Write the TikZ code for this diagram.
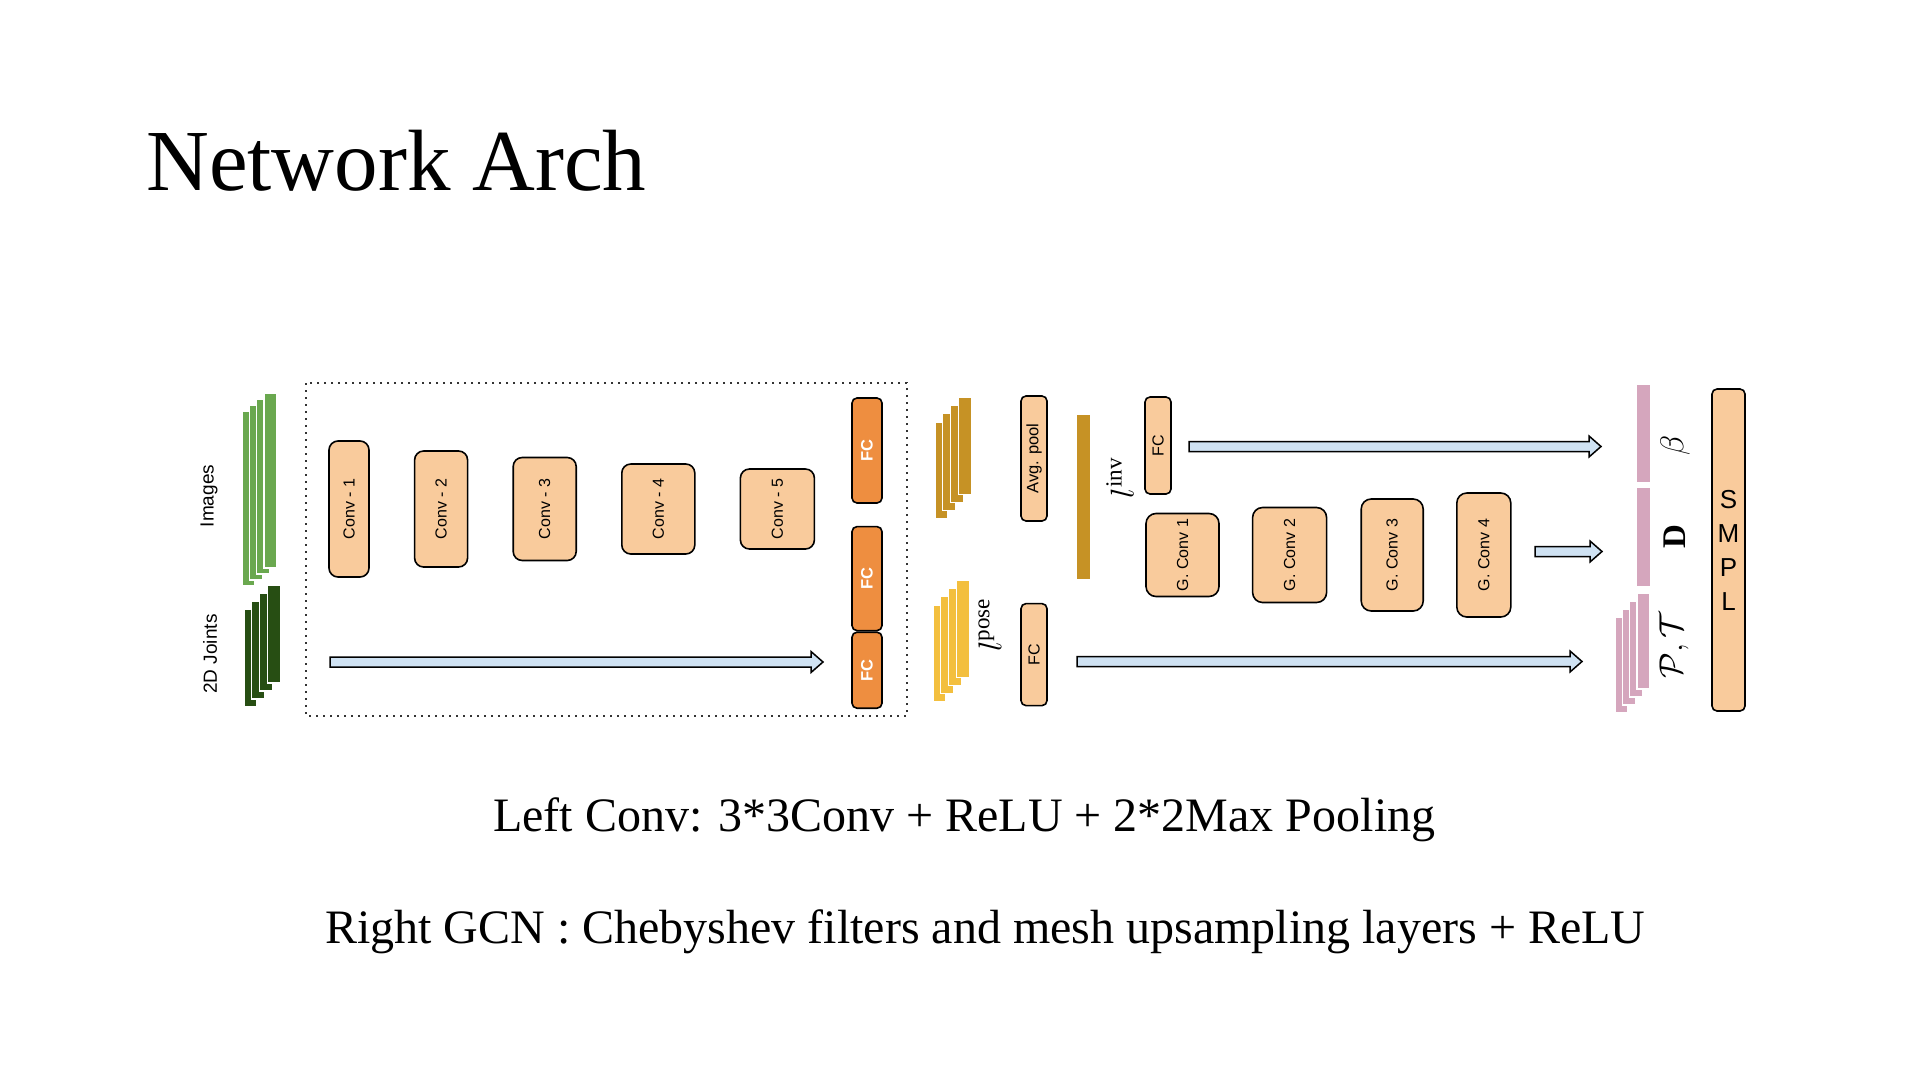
\RequirePackage{fix-cm}
\documentclass[tikz,border=0pt]{standalone}
\usepackage{fontspec}
\setmainfont{Liberation Serif}
\setsansfont{Liberation Sans}
\usepackage{tikz}
\usetikzlibrary{positioning, calc}
\definecolor{peach}{HTML}{F9CB9C}
\definecolor{fcOrange}{HTML}{EE8E40}
\definecolor{imgGreen}{HTML}{6AA84F}
\definecolor{jointGreen}{HTML}{274E13}
\definecolor{featGold}{HTML}{C69225}
\definecolor{poseYellow}{HTML}{F3BF3E}
\definecolor{smplPink}{HTML}{D5A6BD}
\definecolor{arrowBlue}{HTML}{CFE2F3}
\tikzstyle{roundRec} = [rectangle, rounded corners=9pt, draw=black, line width=1.6pt, fill=peach, inner sep=0pt, font=\fontsize{16}{18}\sffamily]
\tikzstyle{thinRec} = [roundRec, rounded corners=5pt]
\tikzstyle{fcRec} = [thinRec, fill=fcOrange, text=white, font=\fontsize{16.5}{18}\sffamily\bfseries]
\tikzstyle{bar} = [draw=white, line width=1.2pt]
\tikzstyle{txt} = [inner sep=0pt]
\tikzstyle{mathLabel} = [inner sep=0pt, rotate=90, font=\fontsize{33}{36}\selectfont]
\tikzstyle{blockArrow} = [draw=black, fill=arrowBlue, line width=1.5pt, line join=miter,
  to path={let \p1=(\tikztostart), \p2=(\tikztotarget) in
    (\x1,\y1+5pt) -- (\x2-12pt,\y1+5pt) -- (\x2-12pt,\y1+10.5pt) -- (\x2,\y1)
    -- (\x2-12pt,\y1-10.5pt) -- (\x2-12pt,\y1-5pt) -- (\x1,\y1-5pt) -- cycle}]

\begin{document}
\begin{tikzpicture}[x=1pt, y=-1pt]
	\fill[white] (0,0) rectangle (1919,1079);
	\useasboundingbox (0,0) rectangle (1919,1079);
	% title and notes
	\node (title) [txt, anchor=base west, font=\fontsize{87}{100}\selectfont] at (146,190) {Network Arch};
	\node (noteConv) [txt, anchor=base west, font=\fontsize{48}{56}\selectfont] at (493,831) {Left Conv: 3*3Conv + ReLU + 2*2Max Pooling};
	\node (noteGcn) [txt, anchor=base west, font=\fontsize{48}{56}\selectfont] at (325,943) {Right GCN : Chebyshev filters and mesh upsampling layers + ReLU};
	% inputs
	\foreach \i in {0,...,3}
		\filldraw[bar, fill=imgGreen] ({242+7.3*\i},{411-6*\i}) rectangle ++(13,175);
	\foreach \i in {0,...,3}
		\filldraw[bar, fill=jointGreen] ({244+7.7*\i},{609-8*\i}) rectangle ++(13,98);
	\node (imgLabel) [txt, rotate=90, font=\fontsize{19}{21}\sffamily] at (209,496) {Images};
	\node (jointLabel) [txt, rotate=90, font=\fontsize{19}{21}\sffamily] at (210,654) {2D Joints};
	\draw[line width=2pt, dash pattern=on 2pt off 5pt, black!80] (306,383) rectangle (907,716);
	% conv stream
	\node (conv1) [roundRec, minimum width=40pt, minimum height=136pt] at (349,509) {\rotatebox{90}{Conv - 1}};
	\node (conv2) [roundRec, minimum width=53pt, minimum height=116pt, right=44pt of conv1] {\rotatebox{90}{Conv - 2}};
	\node (conv3) [roundRec, minimum width=63pt, minimum height=103pt, right=44pt of conv2] {\rotatebox{90}{Conv - 3}};
	\node (conv4) [roundRec, minimum width=73pt, minimum height=90pt, right=44pt of conv3] {\rotatebox{90}{Conv - 4}};
	\node (conv5) [roundRec, minimum width=74pt, minimum height=80pt, right=44pt of conv4] {\rotatebox{90}{Conv - 5}};
	\node (fcTop) [fcRec, minimum width=30pt, minimum height=105pt] at (867,450.5) {\rotatebox{90}{FC}};
	\node (fcMid) [fcRec, minimum width=30pt, minimum height=104pt, below=22pt of fcTop] {\rotatebox{90}{FC}};
	\node (fcBot) [fcRec, minimum width=30pt, minimum height=76pt, below=0pt of fcMid] {\rotatebox{90}{FC}};
	\coordinate (jointIn) at (330,662);
	\coordinate (jointOut) at (823,662);
	\draw [blockArrow] (jointIn) to (jointOut);
	% features
	\foreach \i in {0,...,3}
		\filldraw[bar, fill=featGold] ({935+7.7*\i},{422-8.3*\i}) rectangle ++(13,97);
	\foreach \i in {0,...,3}
		\filldraw[bar, fill=poseYellow] ({933+7.7*\i},{605-8.3*\i}) rectangle ++(13,97);
	\node (poseLabel) [mathLabel] at (990,625) {$l^{\mathrm{pose}}$};
	\node (avgPool) [thinRec, minimum width=26pt, minimum height=125pt, font=\fontsize{16.5}{18}\sffamily] at (1034,458.5) {\rotatebox{90}{Avg. pool}};
	\node (fcPose) [thinRec, minimum width=26pt, minimum height=102pt, below=81pt of avgPool] {\rotatebox{90}{FC}};
	\fill[featGold] (1077,415) rectangle (1090,579);
	\node (invLabel) [mathLabel] at (1120,478) {$l^{\mathrm{inv}}$};
	\node (fcInv) [thinRec, minimum width=26pt, minimum height=97pt] at (1158,445.5) {\rotatebox{90}{FC}};
	% graph conv decoder
	\node (gconv1) [roundRec, rounded corners=10pt, minimum width=73pt, minimum height=83pt] at (1182.5,555) {\rotatebox{90}{G. Conv 1}};
	\node (gconv2) [roundRec, rounded corners=10pt, minimum width=74pt, minimum height=95pt, right=32pt of gconv1] {\rotatebox{90}{G. Conv 2}};
	\node (gconv3) [roundRec, rounded corners=10pt, minimum width=62pt, minimum height=112pt, right=33pt of gconv2] {\rotatebox{90}{G. Conv 3}};
	\node (gconv4) [roundRec, rounded corners=10pt, minimum width=54pt, minimum height=124pt, right=32pt of gconv3] {\rotatebox{90}{G. Conv 4}};
	\coordinate (invIn) at (1189,446.5);
	\coordinate (invOut) at (1601,446.5);
	\coordinate (gcnIn) at (1535,551.5);
	\coordinate (gcnOut) at (1602,551.5);
	\coordinate (poseIn) at (1077,661.5);
	\coordinate (poseOut) at (1582,661.5);
	\draw [blockArrow] (invIn) to (invOut);
	\draw [blockArrow] (gcnIn) to (gcnOut);
	\draw [blockArrow] (poseIn) to (poseOut);
	% smpl parameters
	\fill[smplPink] (1637,385) rectangle (1650,482);
	\fill[smplPink] (1637,488) rectangle (1650,586);
	\foreach \i in {0,...,3}
		\filldraw[bar, fill=smplPink] ({1615+7.3*\i},{617-8*\i}) rectangle ++(13,96);
	\node (betaLabel) [mathLabel] at (1675,445) {$\beta$};
	\node (dLabel) [mathLabel] at (1675,537) {$\mathbf{D}$};
	\node (ptLabel) [mathLabel] at (1674,645) {$\mathcal{P},\mathcal{T}$};
	\node (smpl) [thinRec, minimum width=33pt, minimum height=322pt, align=center, font=\fontsize{26}{34}\sffamily] at (1728.5,550) {S\\M\\P\\L};
\end{tikzpicture}
\end{document}
